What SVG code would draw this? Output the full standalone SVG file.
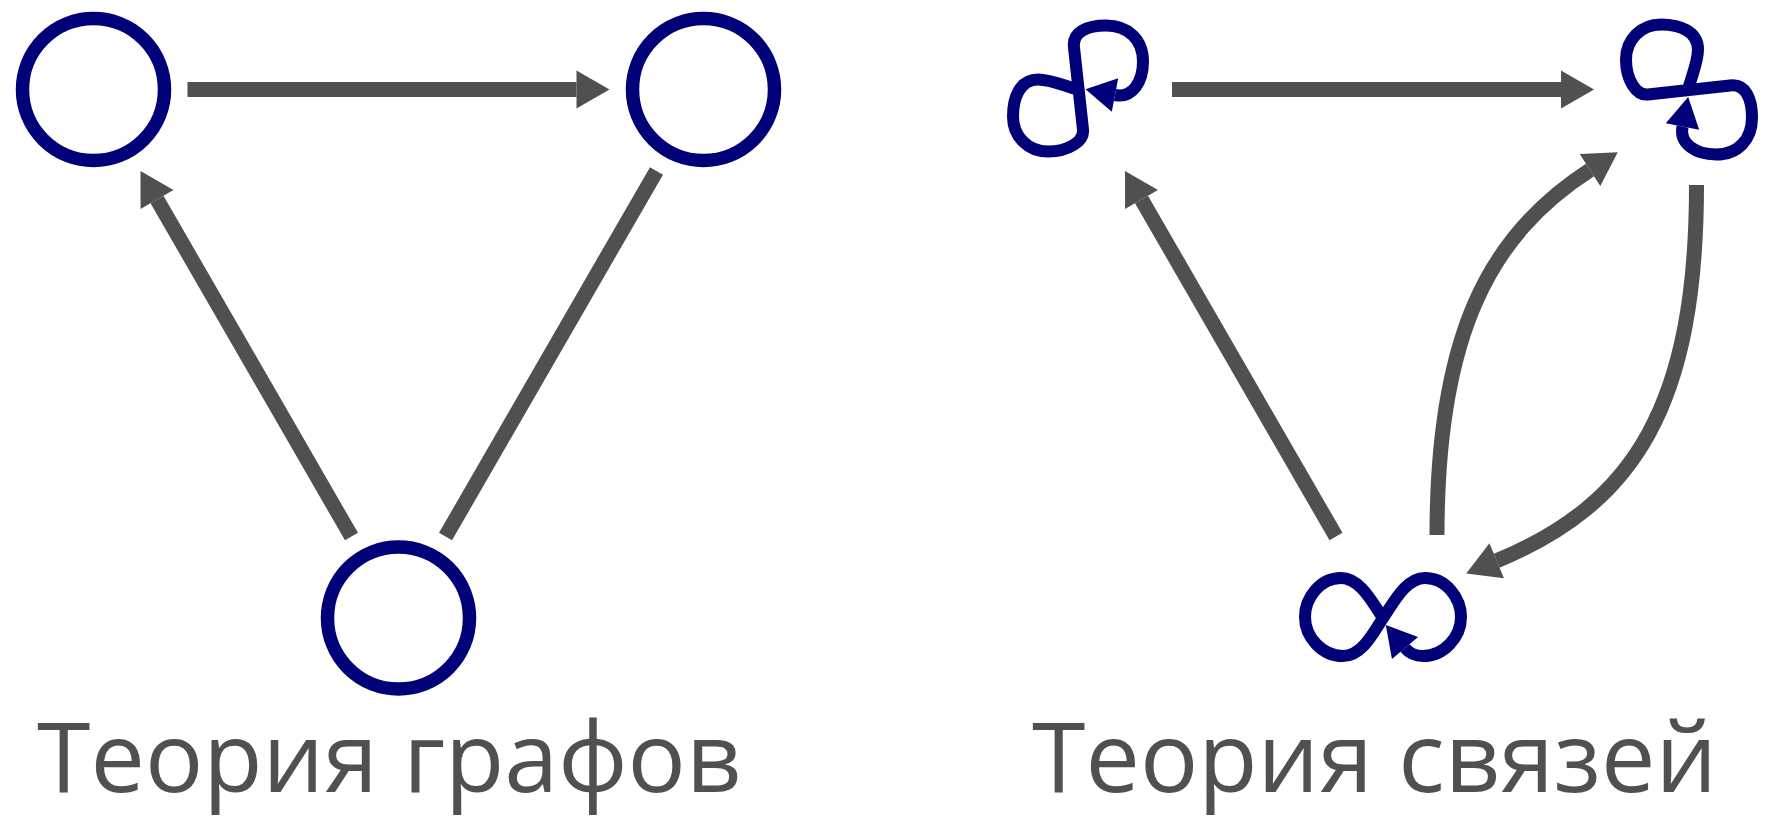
<svg xmlns="http://www.w3.org/2000/svg" width="1778" height="840" viewBox="0 0 1778 840">
<style>
.edge{fill:none;stroke:#505050;stroke-width:15}
.node{fill:none;stroke:#000078;stroke-width:13.5}
.loop{fill:none;stroke:#000078;stroke-width:12}
.label{font-family:"Open Sans","Noto Sans",sans-serif;font-size:97px;fill:#505050}
</style>
<defs>
<marker id="ah" markerUnits="userSpaceOnUse" orient="auto" refX="0" refY="0" markerWidth="40" markerHeight="40" overflow="visible">
<path d="M33,0 L0,-19 L0,19 Z" fill="#505050"/>
</marker>
<marker id="lah" markerUnits="userSpaceOnUse" orient="auto" refX="0" refY="0" markerWidth="40" markerHeight="40" overflow="visible">
<path d="M30,0 L0,-17 L0,17 Z" fill="#000078"/>
</marker>
<path id="loopShape" class="loop" marker-end="url(#lah)" d="M0,0 C-14,-4 -28,-10 -40,-10 C-58,-10 -65,8 -65,27 C-65,47 -50,62 -30,62 C-10,62 6.3,51.9 5,40 L-4,-42 C-6,-58 10,-64 28,-64 C50,-64 65,-50 65,-28 C65,-8 54.6,8.9 37,5.5"/>
</defs>
<rect width="1778" height="840" fill="#ffffff"/>
<g id="connectors">
<path class="edge" d="M187.5,89.5 H576.5" marker-end="url(#ah)"/>
<path class="edge" d="M351.5,536.6 L157,199.5" marker-end="url(#ah)"/>
<path class="edge" d="M445.5,536.6 L656.5,170.9"/>
<path class="edge" d="M1172,89.5 H1561" marker-end="url(#ah)"/>
<path class="edge" d="M1336,536.6 L1141.5,199.5" marker-end="url(#ah)"/>
<path class="edge" d="M1437,535 C1437,335 1489,235 1590,170" marker-end="url(#ah)"/>
<path class="edge" d="M1696.5,185 C1696.5,405 1634.7,503.8 1496.7,560.8" marker-end="url(#ah)"/>
</g>
<g id="graph-a"><circle class="node" cx="93.5" cy="89.5" r="71"/></g>
<g id="graph-b"><circle class="node" cx="703.5" cy="89.5" r="71"/></g>
<g id="graph-c"><circle class="node" cx="398.5" cy="618" r="71"/></g>
<g id="link-a"><use href="#loopShape" transform="translate(1078,89.5)"/></g>
<g id="link-b"><use href="#loopShape" transform="translate(1688,89.5) rotate(90)"/></g>
<g id="link-c"><path class="loop" marker-end="url(#lah)" d="M1383,618 C1372,602 1360,578 1341,578 C1320,578 1305,598 1305,617 C1305,637 1322,656 1343,656 C1362,656 1374,632 1383,618 C1394,602 1406,578 1425,578 C1446,578 1461,598 1461,617 C1461,637 1444,656 1423,656 C1416,656 1410,654 1405,648"/></g>
<g id="labels">
<text class="label" x="37" y="792">Теория графов</text>
<text class="label" x="1032" y="792">Теория связей</text>
</g>
</svg>
